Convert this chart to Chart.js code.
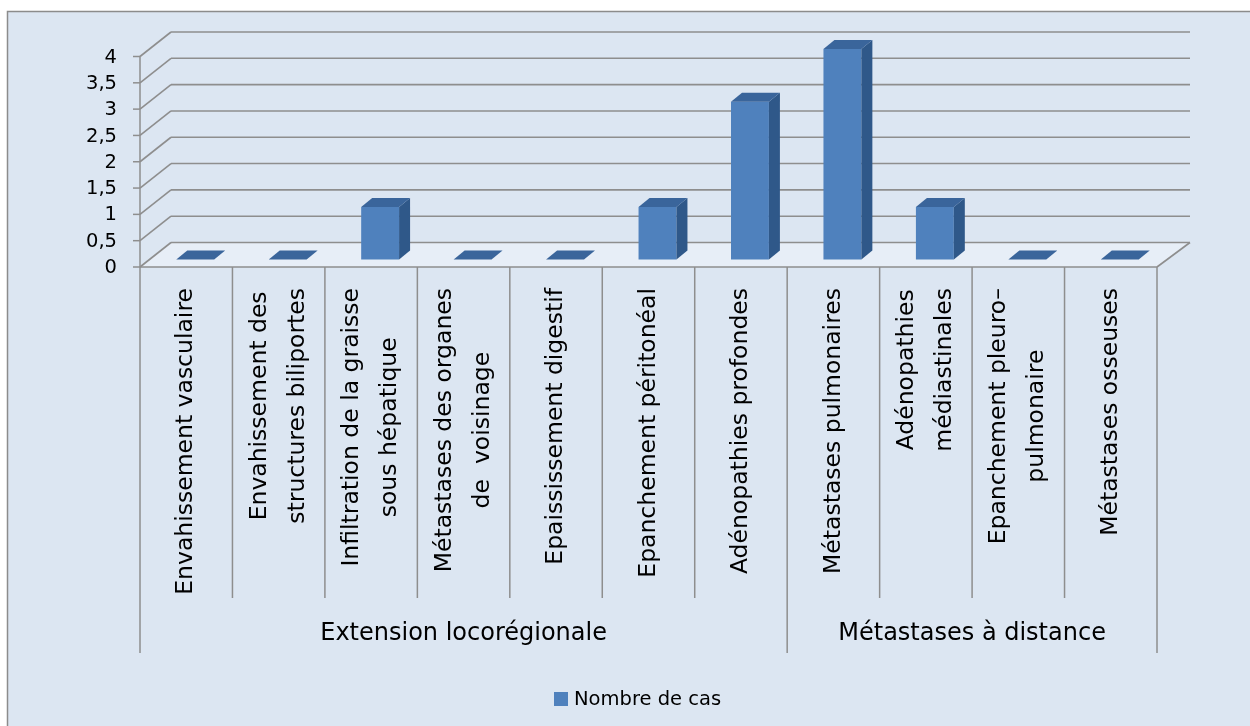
<!DOCTYPE html>
<html lang="fr">
<head>
<meta charset="utf-8">
<title>Nombre de cas</title>
<script src="https://cdn.jsdelivr.net/npm/chart.js@4"></script>
<style>
  html, body { margin: 0; padding: 0; background: #ffffff; }
  #wrap { width: 1250px; height: 726px; }
</style>
</head>
<body>
<div id="wrap"><canvas id="extensionChart" width="1250" height="726"></canvas></div>
<script>
/* =========================================
   Données
   ========================================= */
var categories = [
    ['Envahissement vasculaire'],
    ['Envahissement des', 'structures biliportes'],
    ['Infiltration de la graisse', 'sous hépatique'],
    ['Métastases des organes', 'de  voisinage'],
    ['Epaississement digestif'],
    ['Epanchement péritonéal'],
    ['Adénopathies profondes'],
    ['Métastases pulmonaires'],
    ['Adénopathies', 'médiastinales'],
    ['Epanchement pleuro–', 'pulmonaire'],
    ['Métastases osseuses']
];
var nombreDeCas = [0, 0, 1, 0, 0, 1, 3, 4, 1, 0, 0];

// groupes : libellé + nombre de catégories couvertes
var groupes = ['Extension locorégionale', 'Métastases à distance'];
var groupesTaille = [7, 4];

var yTicks = [0, 0.5, 1, 1.5, 2, 2.5, 3, 3.5, 4];

/* =========================================
   Effet 3D (façon Excel)
   ========================================= */
var PROF_X = 31, PROF_Y = -24.5;      // profondeur du plancher
var BARRE_X = 9, BARRE_Y = -7.5;      // décalage de la face avant des barres
var EP_X = 11, EP_Y = -9;             // épaisseur des barres

var couleurGrille = '#8e8e8e';
var fondGraphique = '#dce6f2';
var police = '"DejaVu Sans", Verdana, sans-serif';

function ligne(ctx, x1, y1, x2, y2) {
    ctx.beginPath();
    ctx.moveTo(x1, y1);
    ctx.lineTo(x2, y2);
    ctx.stroke();
}

function poly(ctx, pts, fill) {
    ctx.beginPath();
    ctx.moveTo(pts[0][0], pts[0][1]);
    for (var i = 1; i < pts.length; i++) ctx.lineTo(pts[i][0], pts[i][1]);
    ctx.closePath();
    ctx.fillStyle = fill;
    ctx.fill();
}

var decor3D = {
    id: 'decor3D',
    beforeDraw: function(chart) {
        var ctx = chart.ctx;
        ctx.save();
        ctx.fillStyle = '#ffffff';
        ctx.fillRect(0, 0, chart.width, chart.height);
        ctx.fillStyle = fondGraphique;
        ctx.fillRect(7.5, 11.5, chart.width, chart.height);
        ctx.strokeStyle = '#8c8c8c';
        ctx.lineWidth = 1.5;
        ctx.strokeRect(7.5, 11.5, chart.width, chart.height);
        ctx.restore();
    },
    beforeDatasetsDraw: function(chart) {
        var ctx = chart.ctx;
        var area = chart.chartArea;
        var xs = chart.scales.x, ys = chart.scales.y;
        var L = area.left, R = area.right, B = area.bottom, T = area.top;
        var n = categories.length;
        var pas = (R - L) / n;

        ctx.save();
        // plancher
        poly(ctx, [[L, B], [R, B], [R + PROF_X, B + PROF_Y], [L + PROF_X, B + PROF_Y]], '#e7eef7');

        // quadrillage : mur du fond + mur de gauche
        ctx.strokeStyle = couleurGrille;
        ctx.lineWidth = 1.6;
        yTicks.forEach(function(v) {
            var y = ys.getPixelForValue(v);
            ligne(ctx, L + PROF_X, y + PROF_Y, R + PROF_X + 2, y + PROF_Y);
            ligne(ctx, L, y, L + PROF_X, y + PROF_Y);
        });
        // bords avant du plancher
        ligne(ctx, L, B, R, B);
        ligne(ctx, R, B, R + PROF_X + 2, B + PROF_Y);

        // axe vertical + graduations
        ctx.lineWidth = 1.5;
        ligne(ctx, L, T, L, B);
        ctx.fillStyle = '#000000';
        ctx.font = '19.5px ' + police;
        ctx.textAlign = 'right';
        ctx.textBaseline = 'middle';
        yTicks.forEach(function(v) {
            var y = ys.getPixelForValue(v);
            ligne(ctx, L - 7, y, L, y);
            ctx.fillText(String(v).replace('.', ','), L - 23, y + 1);
        });

        // séparateurs de catégories et de groupes
        var bornes = [0];
        groupesTaille.reduce(function(acc, t) { bornes.push(acc + t); return acc + t; }, 0);
        for (var i = 0; i <= n; i++) {
            var x = xs.getPixelForValue(i) - pas / 2;
            var basLigne = bornes.indexOf(i) >= 0 ? 653 : 598;
            ligne(ctx, x, B, x, basLigne);
        }

        // libellés des catégories (verticaux, centrés ligne par ligne)
        ctx.font = '23.5px ' + police;
        ctx.textAlign = 'center';
        ctx.textBaseline = 'middle';
        categories.forEach(function(lignes, i) {
            var cx = xs.getPixelForValue(i);
            var w = Math.max.apply(null, lignes.map(function(t) { return ctx.measureText(t).width; }));
            lignes.forEach(function(t, j) {
                ctx.save();
                ctx.translate(cx + (j - (lignes.length - 1) / 2) * 38, 288 + w / 2);
                ctx.rotate(-Math.PI / 2);
                ctx.fillText(t, 0, 0);
                ctx.restore();
            });
        });

        // libellés des groupes
        ctx.font = '24px ' + police;
        groupes.forEach(function(g, k) {
            var x1 = xs.getPixelForValue(bornes[k]) - pas / 2;
            var x2 = xs.getPixelForValue(bornes[k + 1] - 1) + pas / 2;
            ctx.fillText(g, (x1 + x2) / 2, 634);
        });

        // légende
        var ds = chart.data.datasets[0];
        ctx.fillStyle = ds.backgroundColor;
        ctx.fillRect(554, 692, 14, 14);
        ctx.fillStyle = '#000000';
        ctx.font = '19.5px ' + police;
        ctx.textAlign = 'left';
        ctx.fillText(ds.label, 574, 700);
        ctx.restore();

        // les barres sont dessinées un peu en retrait dans la profondeur
        ctx.save();
        ctx.translate(BARRE_X, BARRE_Y);
    },
    afterDatasetsDraw: function(chart) {
        var ctx = chart.ctx;
        ctx.restore();
        ctx.save();
        chart.getDatasetMeta(0).data.forEach(function(bar) {
            var p = bar.getProps(['x', 'y', 'base', 'width'], true);
            var g = p.x - p.width / 2 + BARRE_X;
            var d = p.x + p.width / 2 + BARRE_X;
            var h = Math.min(p.y, p.base) + BARRE_Y;
            var b = p.base + BARRE_Y;
            if (b - h > 0.5) {
                // face latérale
                poly(ctx, [[d, h], [d + EP_X, h + EP_Y], [d + EP_X, b + EP_Y], [d, b]], '#2f5889');
            }
            // dessus
            poly(ctx, [[g, h], [g + EP_X, h + EP_Y], [d + EP_X, h + EP_Y], [d, h]], '#3a659b');
        });
        ctx.restore();
    }
};

/* =========================================
   Graphique
   ========================================= */
var ctx = document.getElementById('extensionChart').getContext('2d');

var extensionChart = new Chart(ctx, {
    type: 'bar',
    data: {
        labels: categories,
        datasets: [{
            label: 'Nombre de cas',
            data: nombreDeCas,
            backgroundColor: '#4f81bd',
            borderWidth: 0,
            barPercentage: 0.41,
            categoryPercentage: 1,
            clip: false
        }]
    },
    options: {
        responsive: false,
        animation: false,
        devicePixelRatio: 1,
        layout: {
            padding: { left: 140, right: 93, top: 56.5, bottom: 459 }
        },
        plugins: {
            legend: { display: false },
            tooltip: { enabled: false }
        },
        scales: {
            x: { display: false },
            y: { display: false, min: 0, max: 4, ticks: { stepSize: 0.5 } }
        }
    },
    plugins: [decor3D]
});
</script>
</body>
</html>
